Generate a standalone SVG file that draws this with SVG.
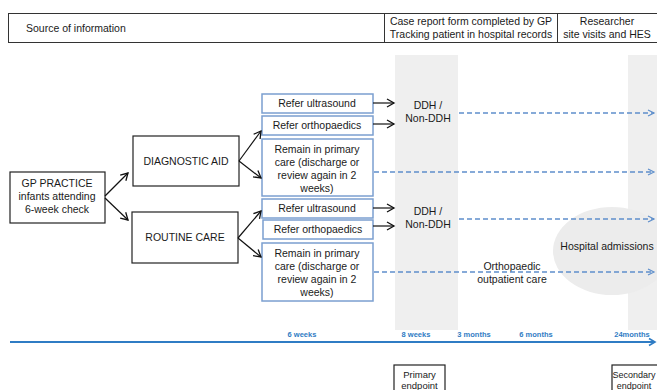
<svg xmlns="http://www.w3.org/2000/svg" width="657" height="390" viewBox="0 0 657 390">
<style>
text{font-family:"Liberation Sans",Arial,sans-serif;font-size:10.5px;fill:#1a1a1a}
.c{text-anchor:middle}
.bk{fill:#fff;stroke:#222;stroke-width:1.2}
.bl{fill:#fff;stroke:#7b9fd0;stroke-width:1.5}
.band{fill:#efefef}
.ar{stroke:#111;stroke-width:1.2;fill:none}
.dash{stroke:#5f8fcb;stroke-width:1.3;stroke-dasharray:5 3;fill:none}
.tl{font-size:7.5px;font-weight:bold;fill:#2f7cc4}
.ep{font-size:9.5px}
</style>
<defs>
<marker id="ah" markerWidth="10" markerHeight="10" refX="8" refY="5" orient="auto" markerUnits="userSpaceOnUse">
<path d="M1,1 L8,5 L1,9" fill="none" stroke="#111" stroke-width="1.3"/>
</marker>
<marker id="ahb" markerWidth="10" markerHeight="10" refX="8" refY="5" orient="auto" markerUnits="userSpaceOnUse">
<path d="M2,2 L8,5 L2,8" fill="none" stroke="#5f8fcb" stroke-width="1.2"/>
</marker>
<marker id="aht" markerWidth="10" markerHeight="10" refX="8" refY="5" orient="auto" markerUnits="userSpaceOnUse">
<path d="M2,1.5 L8,5 L2,8.5" fill="none" stroke="#2f7cc4" stroke-width="1.6"/>
</marker>
</defs>

<g id="background">
<rect class="band" x="395" y="55" width="63" height="275"/>
<rect class="band" x="628" y="55" width="30" height="275"/>
<ellipse cx="612" cy="251" rx="59" ry="44" fill="#ececec"/>
</g>

<g id="header">
<rect x="8.5" y="13.5" width="660" height="29" fill="#fff" stroke="#333" stroke-width="1"/>
<line x1="384.5" y1="13.5" x2="384.5" y2="42.5" stroke="#333" stroke-width="1"/>
<line x1="557.5" y1="13.5" x2="557.5" y2="42.5" stroke="#333" stroke-width="1"/>
<text x="26" y="32">Source of information</text>
<text class="c" x="471" y="25">Case report form completed by GP</text>
<text class="c" x="471" y="38">Tracking patient in hospital records</text>
<text class="c" x="607" y="25">Researcher</text>
<text class="c" x="607" y="38">site visits and HES</text>
</g>

<g id="gp">
<rect class="bk" x="10" y="172" width="95" height="51"/>
<text class="c" x="57" y="187">GP PRACTICE</text>
<text class="c" x="57" y="200">infants attending</text>
<text class="c" x="57" y="213">6-week check</text>
</g>
<g id="diag">
<rect class="bk" x="133" y="136" width="106" height="50"/>
<text class="c" x="186" y="165">DIAGNOSTIC AID</text>
</g>
<g id="routine">
<rect class="bk" x="132" y="212" width="106" height="51"/>
<text class="c" x="185" y="241">ROUTINE CARE</text>
</g>

<g id="d-us"><rect class="bl" x="262" y="94" width="111" height="19"/><text class="c" x="317" y="107">Refer ultrasound</text></g>
<g id="d-ortho"><rect class="bl" x="262" y="116" width="111" height="19"/><text class="c" x="317" y="129">Refer orthopaedics</text></g>
<g id="d-remain"><rect class="bl" x="262" y="139" width="111" height="57"/>
<text class="c" x="317" y="153">Remain in primary</text>
<text class="c" x="317" y="166">care (discharge or</text>
<text class="c" x="317" y="179">review again in 2</text>
<text class="c" x="317" y="192">weeks)</text></g>
<g id="r-us"><rect class="bl" x="262" y="199" width="111" height="19"/><text class="c" x="317" y="212">Refer ultrasound</text></g>
<g id="r-ortho"><rect class="bl" x="263" y="220" width="110" height="19"/><text class="c" x="318" y="233">Refer orthopaedics</text></g>
<g id="r-remain"><rect class="bl" x="262" y="243" width="111" height="58"/>
<text class="c" x="317" y="257">Remain in primary</text>
<text class="c" x="317" y="270">care (discharge or</text>
<text class="c" x="317" y="283">review again in 2</text>
<text class="c" x="317" y="296">weeks)</text></g>

<g id="ddh1"><text class="c" x="428" y="109">DDH /</text><text class="c" x="428" y="122">Non-DDH</text></g>
<g id="ddh2"><text class="c" x="428" y="215">DDH /</text><text class="c" x="428" y="228">Non-DDH</text></g>
<g id="outpatient"><text class="c" x="512" y="270">Orthopaedic</text><text class="c" x="512" y="283">outpatient care</text></g>
<g id="hospital"><text class="c" x="607" y="250">Hospital admissions</text></g>

<g id="connectors">
<line class="ar" x1="105" y1="196" x2="128" y2="173" marker-end="url(#ah)"/>
<line class="ar" x1="105" y1="198" x2="128" y2="220" marker-end="url(#ah)"/>
<line class="ar" x1="239" y1="161" x2="261" y2="131" marker-end="url(#ah)"/>
<line class="ar" x1="239" y1="161" x2="261" y2="178" marker-end="url(#ah)"/>
<line class="ar" x1="238" y1="238" x2="261" y2="211" marker-end="url(#ah)"/>
<line class="ar" x1="238" y1="238" x2="261" y2="257" marker-end="url(#ah)"/>
<line class="ar" x1="373" y1="103" x2="394" y2="103" marker-end="url(#ah)"/>
<line class="ar" x1="373" y1="124" x2="394" y2="124" marker-end="url(#ah)"/>
<line class="ar" x1="373" y1="208" x2="394" y2="208" marker-end="url(#ah)"/>
<line class="ar" x1="373" y1="226" x2="394" y2="226" marker-end="url(#ah)"/>
<line class="dash" x1="459" y1="113" x2="654" y2="113" marker-end="url(#ahb)"/>
<line class="dash" x1="374" y1="172" x2="654" y2="172" marker-end="url(#ahb)"/>
<line class="dash" x1="459" y1="219" x2="654" y2="219" marker-end="url(#ahb)"/>
<line class="dash" x1="374" y1="272" x2="654" y2="272" marker-end="url(#ahb)"/>
</g>

<g id="timeline">
<line x1="10" y1="342" x2="655" y2="342" stroke="#2f7cc4" stroke-width="2" marker-end="url(#aht)"/>
<text class="c tl" x="302" y="337">6 weeks</text>
<text class="c tl" x="416" y="337">8 weeks</text>
<text class="c tl" x="474" y="337">3 months</text>
<text class="c tl" x="536" y="337">6 months</text>
<text class="c tl" x="632" y="337">24months</text>
</g>

<g id="primary">
<rect class="bk" x="394" y="365" width="51" height="30" stroke-width="1"/>
<text class="c ep" x="419.5" y="378">Primary</text>
<text class="c ep" x="419.5" y="389">endpoint</text>
</g>
<g id="secondary">
<rect class="bk" x="612" y="365" width="52" height="30" stroke-width="1"/>
<text class="c ep" x="634" y="378" style="font-size:9px">Secondary</text>
<text class="c ep" x="634" y="389" style="font-size:9px">endpoint</text>
</g>
</svg>
